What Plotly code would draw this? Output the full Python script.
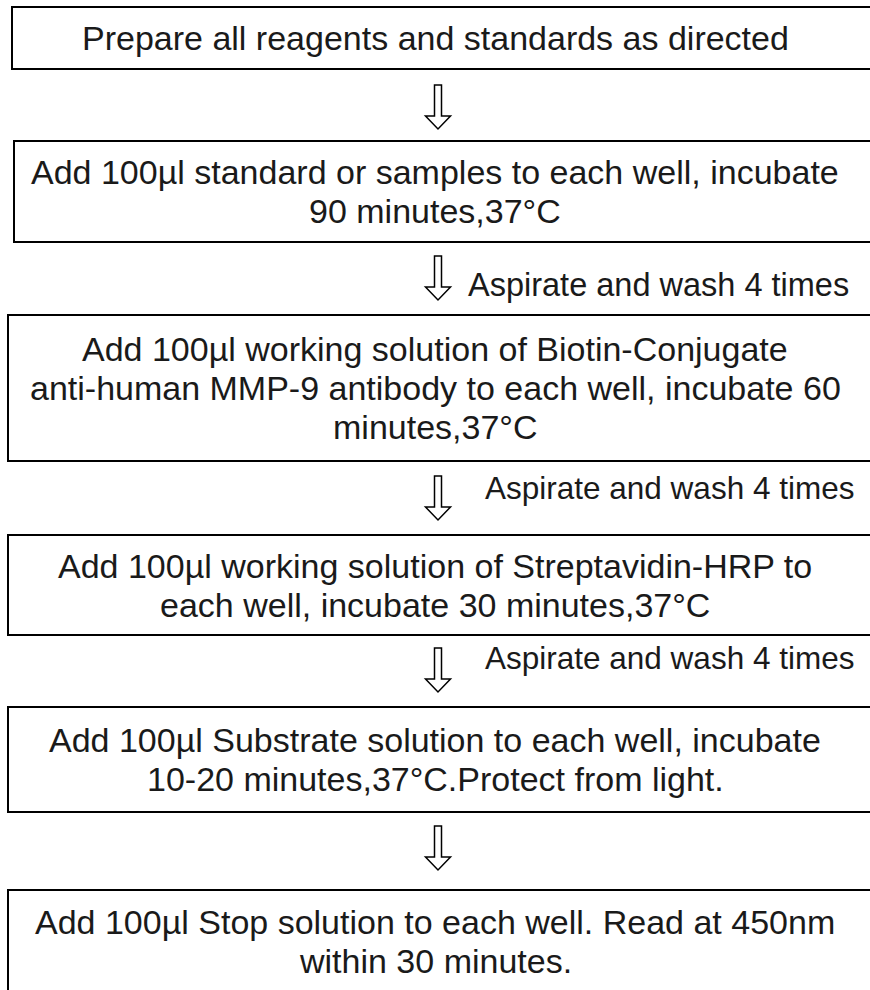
import plotly.graph_objects as go

# ---- content ----
step_lines = [
    ["Prepare all reagents and standards as directed"],
    ["Add 100µl standard or samples to each well, incubate", "90 minutes,37°C"],
    ["Add 100µl working solution of Biotin-Conjugate",
     "anti-human MMP-9 antibody to each well, incubate 60",
     "minutes,37°C"],
    ["Add 100µl working solution of Streptavidin-HRP to",
     "each well, incubate 30 minutes,37°C"],
    ["Add 100µl Substrate solution to each well, incubate",
     "10-20 minutes,37°C.Protect from light."],
    ["Add 100µl Stop solution to each well. Read at 450nm",
     "within 30 minutes."],
]
wash_labels = ["", "Aspirate and wash 4 times", "Aspirate and wash 4 times",
               "Aspirate and wash 4 times", ""]

# ---- layout (pixel geometry) ----
W, H = 870, 990
box_left = [12, 14, 8, 8, 8, 8]
box_top = [7, 141, 315, 535, 707, 890]
box_bottom = [69, 242, 461, 635, 812, 992]
box_right = 880
arrow_top = [85, 256, 476, 648, 826]
arrow_x = 438
label_x = [None, 466, 483, 483, None]
label_y = [None, 285, 488, 658, None]
label_size = [None, 32.5, 31.5, 31.5, None]
LINE_H = 39
FONT = "Liberation Sans, Arial, sans-serif"
TXT = "#1a1a1a"

fig = go.Figure()
shapes, annos = [], []

for i, lines in enumerate(step_lines):
    shapes.append(dict(type="rect", xref="x", yref="y",
                       x0=box_left[i], x1=box_right, y0=box_top[i], y1=box_bottom[i],
                       line=dict(color="#000000", width=2), fillcolor="rgba(0,0,0,0)"))
    cy = (box_top[i] + box_bottom[i]) / 2
    n = len(lines)
    for k, t in enumerate(lines):
        y = cy + (k - (n - 1) / 2) * LINE_H
        annos.append(dict(x=W / 2, y=y, xref="x", yref="y", text=t, showarrow=False,
                          xanchor="center", yanchor="middle",
                          font=dict(family=FONT, size=34, color=TXT)))

# hollow down arrows
SHAFT_W, HEAD_W, SHAFT_H, HEAD_H = 7, 25, 31, 13
for j, top in enumerate(arrow_top):
    cx = arrow_x
    sx0, sx1 = cx - SHAFT_W / 2, cx + SHAFT_W / 2
    hx0, hx1 = cx - HEAD_W / 2, cx + HEAD_W / 2
    yh = top + SHAFT_H
    tip = yh + HEAD_H
    path = (f"M {sx0} {top} L {sx1} {top} L {sx1} {yh} L {hx1} {yh} "
            f"L {cx} {tip} L {hx0} {yh} L {sx0} {yh} Z")
    shapes.append(dict(type="path", xref="x", yref="y", path=path,
                       line=dict(color="#000000", width=1.5), fillcolor="white"))
    if wash_labels[j]:
        annos.append(dict(x=label_x[j], y=label_y[j], xref="x", yref="y",
                          text=wash_labels[j], showarrow=False,
                          xanchor="left", yanchor="middle",
                          font=dict(family=FONT, size=label_size[j], color=TXT)))

fig.update_layout(
    width=W, height=H, margin=dict(l=0, r=0, t=0, b=0),
    paper_bgcolor="white", plot_bgcolor="white",
    xaxis=dict(range=[0, W], visible=False, fixedrange=True),
    yaxis=dict(range=[H, 0], visible=False, fixedrange=True),
    shapes=shapes, annotations=annos, showlegend=False,
)
fig.write_html("out.html", config={"displayModeBar": False},
               post_script="document.body.style.margin='0';document.body.style.overflow='hidden';")
